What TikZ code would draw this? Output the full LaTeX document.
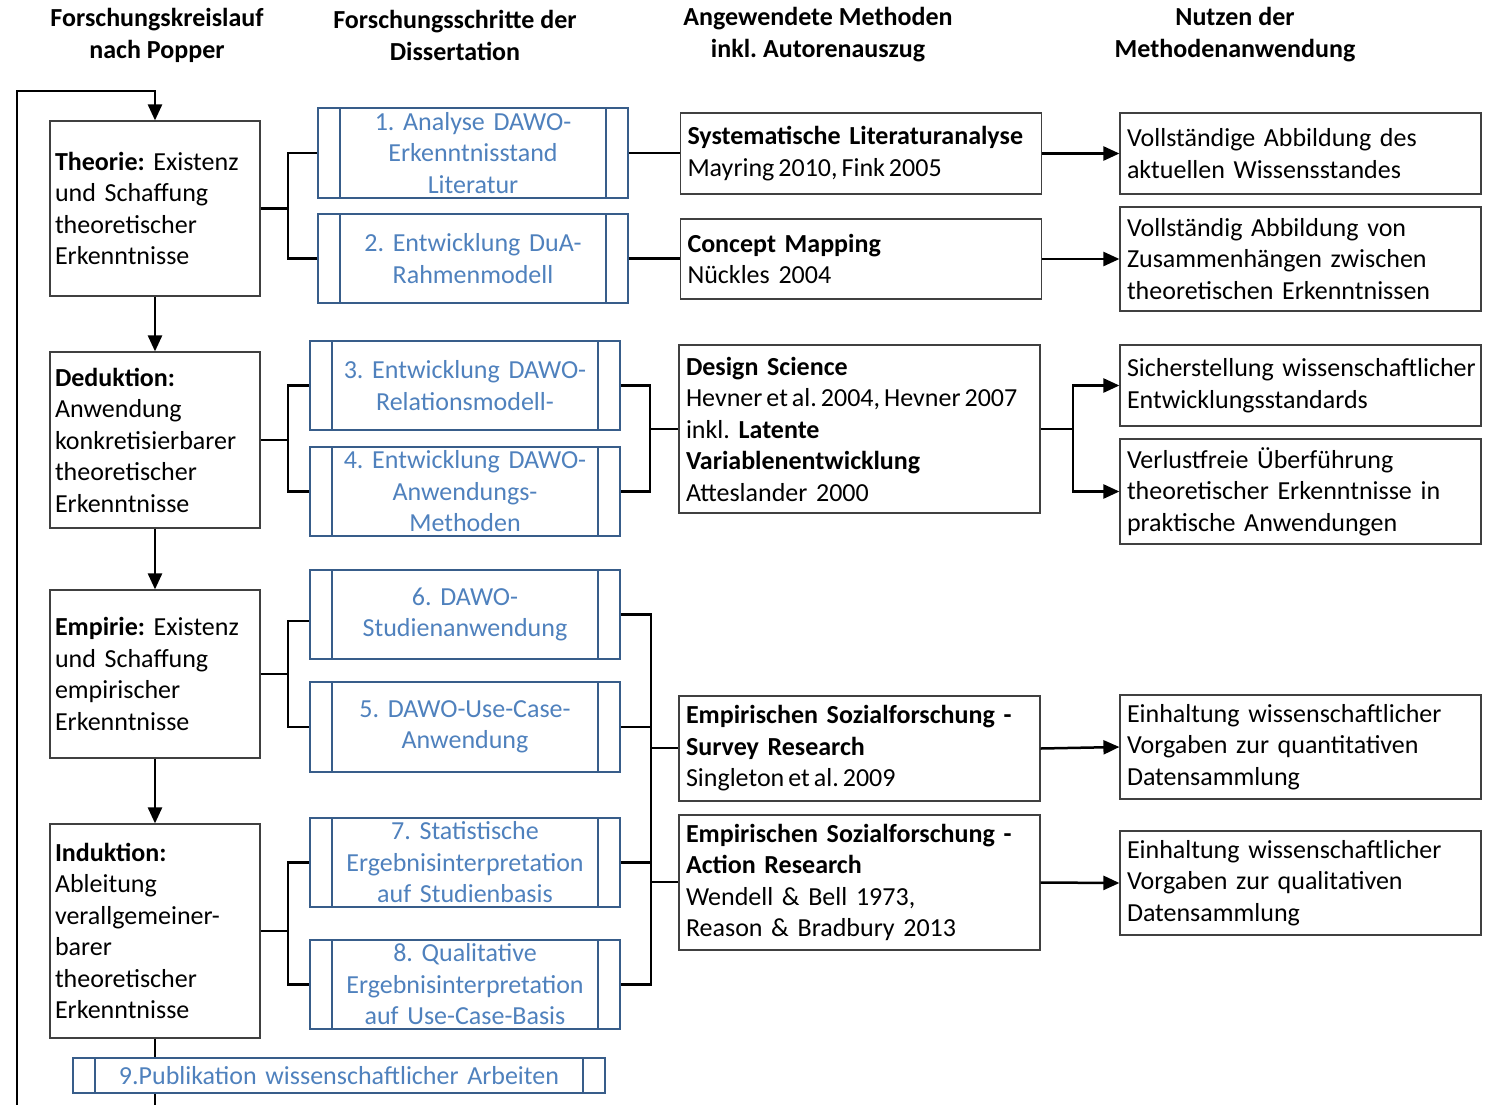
\documentclass[tikz,border=0pt]{standalone}
\usepackage{fontspec}
\setmainfont{Carlito}
\usetikzlibrary{arrows.meta,calc}
\definecolor{bluetext}{RGB}{79,129,189}
\definecolor{blueline}{RGB}{56,93,138}
\definecolor{boxline}{RGB}{64,64,64}
\frenchspacing
\hyphenpenalty=10000
\exhyphenpenalty=10000
\newcommand\mytxtfont{\fontsize{26}{31.5}\selectfont\spaceskip=6pt plus 1pt minus 1pt\relax}
\newcommand\myhdrfont{\fontsize{26}{32}\selectfont\bfseries\spaceskip=6pt plus 1pt minus 1pt\relax}
\newcommand\mytight[1]{\mbox{\spaceskip=4pt\relax #1}}
\begin{document}
\begin{tikzpicture}[x=1pt,y=-1pt,
  txt/.style={font=\mytxtfont},
  hdr/.style={font=\myhdrfont,align=center},
  lbox/.style={txt,draw=boxline,line width=1.2pt,align=left,inner xsep=5pt,inner ysep=0pt,text width=200pt,minimum width=210pt},
  mbox/.style={txt,draw=boxline,line width=1.2pt,align=left,inner xsep=7pt,inner ysep=0pt,text width=347pt,minimum width=361pt},
  sbox/.style={txt,draw=blueline,line width=1.8pt,text=bluetext,align=center,inner xsep=0pt,inner ysep=0pt,
    text width=#1pt,minimum width=#1pt,
    path picture={\draw[blueline,line width=1.8pt]
      ([xshift=22pt]path picture bounding box.north west) -- ([xshift=22pt]path picture bounding box.south west)
      ([xshift=-22pt]path picture bounding box.north east) -- ([xshift=-22pt]path picture bounding box.south east);}},
  sbox/.default=310,
  conn/.style={line width=2.5pt,black},
  arr/.style={conn,-{Triangle[length=16pt,width=14pt]}}
]
\clip (0,0) rectangle (1494,1104);

% headers
\node[hdr] (h1) at (157,35) {Forschungskreislauf\\nach Popper};
\node[hdr] (h2) at (455,35) {Forschungsschritte der\\Dissertation};
\node[hdr] (h3) at (818,35) {Angewendete Methoden\\inkl. Autorenauszug};
\node[hdr] (h4) at (1235,35) {Nutzen der\\Methodenanwendung};

% left column
\node[lbox,minimum height=175pt] (theo) at (155,208.5) {\textbf{Theorie:} Existenz\\und Schaffung\\theoretischer\\Erkenntnisse};
\node[lbox,minimum height=176pt] (ded) at (155,440) {\textbf{Deduktion:}\\Anwendung\\konkretisierbarer\\theoretischer\\Erkenntnisse};
\node[lbox,minimum height=168pt] (emp) at (155,674) {\textbf{Empirie:} Existenz\\und Schaffung\\empirischer\\Erkenntnisse};
\node[lbox,minimum height=214pt] (ind) at (155,931) {\textbf{Induktion:}\\Ableitung\\verallgemeiner-\\barer\\theoretischer\\Erkenntnisse};

% steps
\node[sbox,minimum height=90pt] (s1) at (473,153) {1. Analyse DAWO-\\Erkenntnisstand\\Literatur};
\node[sbox,minimum height=89pt] (s2) at (473,258.5) {2. Entwicklung DuA-\\Rahmenmodell};
\node[sbox,minimum height=89pt] (s3) at (465,385.5) {3. Entwicklung DAWO-\\Relationsmodell-};
\node[sbox,minimum height=89pt] (s4) at (465,491.5) {4. Entwicklung DAWO-\\Anwendungs-\\Methoden};
\node[sbox,minimum height=89pt] (s6) at (465,614.5) {6. DAWO-\\Studienanwendung};
\node[sbox,minimum height=90pt] (s5) at (465,727) {5. DAWO-Use-Case-\\Anwendung};
\node[sbox,minimum height=89pt] (s7) at (465,862.5) {7. Statistische\\Ergebnisinterpretation\\auf Studienbasis};
\node[sbox,minimum height=89pt] (s8) at (465,984.5) {8. Qualitative\\Ergebnisinterpretation\\auf Use-Case-Basis};
\node[sbox=532,minimum height=35pt] (s9) at (339,1075.5) {9.Publikation wissenschaftlicher Arbeiten};

% methods
\node[mbox,minimum height=81pt] (m1) at (861,153.5) {\mbox{\textbf{Systematische Literaturanalyse}}\\\mytight{Mayring 2010, Fink 2005}};
\node[mbox,minimum height=80pt] (m2) at (861,259) {\textbf{Concept Mapping}\\Nückles 2004};
\node[mbox,minimum height=168pt] (m3) at (859.5,429) {\textbf{Design Science}\\\mytight{Hevner et al. 2004, Hevner 2007}\\inkl. \textbf{Latente}\\\textbf{Variablenentwicklung}\\Atteslander 2000};
\node[mbox,minimum height=105pt] (m4) at (859.5,748.5) {\mbox{\textbf{Empirischen Sozialforschung -}}\\\textbf{Survey Research}\\\mytight{Singleton et al. 2009}};
\node[mbox,minimum height=135pt] (m5) at (859.5,882.5) {\mbox{\textbf{Empirischen Sozialforschung -}}\\\textbf{Action Research}\\Wendell \& Bell 1973,\\Reason \& Bradbury 2013};

% benefits
\node[mbox,minimum height=81pt] (b1) at (1300.5,153.5) {Vollständige Abbildung des\\aktuellen Wissensstandes};
\node[mbox,minimum height=104pt] (b2) at (1300.5,259) {Vollständig Abbildung von\\Zusammenhängen zwischen\\\mbox{theoretischen Erkenntnissen}};
\node[mbox,minimum height=81pt] (b3) at (1300.5,385.5) {\mbox{Sicherstellung wissenschaftlicher}\\Entwicklungsstandards};
\node[mbox,minimum height=105pt] (b4) at (1300.5,491.5) {Verlustfreie Überführung\\\mbox{theoretischer Erkenntnisse in}\\praktische Anwendungen};
\node[mbox,minimum height=104pt] (b5) at (1300.5,747) {\mbox{Einhaltung wissenschaftlicher}\\Vorgaben zur quantitativen\\Datensammlung};
\node[mbox,minimum height=104pt] (b6) at (1300.5,883) {\mbox{Einhaltung wissenschaftlicher}\\Vorgaben zur qualitativen\\Datensammlung};

% left vertical flow
\draw[arr] (theo.south) -- (ded.north);
\draw[arr] (ded.south) -- (emp.north);
\draw[arr] (emp.south) -- (ind.north);
\draw[conn] (ind.south) -- (ind.south |- s9.north);
\coordinate (bot) at (155,1115);
\coordinate (lt) at (17,91);
\draw[arr] (ind.south |- s9.south) -- (bot) -| (lt) -| (theo.north);

% brackets left -> steps
\coordinate (jt) at (288,208.5);
\draw[conn] (theo.east) -- (jt);
\draw[conn] (s1.west) -| (jt) |- (s2.west);
\coordinate (jd) at (288,440);
\draw[conn] (ded.east) -- (jd);
\draw[conn] (s3.west) -| (jd) |- (s4.west);
\coordinate (je) at (288,674);
\draw[conn] (emp.east) -- (je);
\draw[conn] ([yshift=-6.5pt]s6.west) -| (je) |- (s5.west);
\coordinate (ji) at (288,931);
\draw[conn] (ind.east) -- (ji);
\draw[conn] (s7.west) -| (ji) |- (s8.west);

% steps -> methods
\draw[conn] (s1.east) -- (s1.east -| m1.west);
\draw[conn] (s2.east) -- (s2.east -| m2.west);
\coordinate (j3) at (650,429);
\draw[conn] (s3.east) -| (j3) |- (s4.east);
\draw[conn] (j3) -- (m3.west);
\coordinate (j5) at (651,748);
\coordinate (j6) at (651,882);
\draw[conn] (s6.east) -| (j5) |- (s8.east);
\draw[conn] (s5.east) -- (s5.east -| j5);
\draw[conn] (s7.east) -- (s7.east -| j5);
\draw[conn] (j5) -- (j5 -| m4.west);
\draw[conn] (j6) -- (j6 -| m5.west);

% methods -> benefits
\draw[arr] (m1.east) -- (b1.west);
\draw[arr] (m2.east) -- (b2.west);
\coordinate (k3) at (1073,429);
\draw[conn] (m3.east) -- (k3);
\draw[arr] (k3) |- (b3.west);
\draw[arr] (k3) |- (b4.west);
\draw[arr] (m4.east) -- (b5.west);
\draw[arr] (m5.east) -- (b6.west);
\end{tikzpicture}
\end{document}
